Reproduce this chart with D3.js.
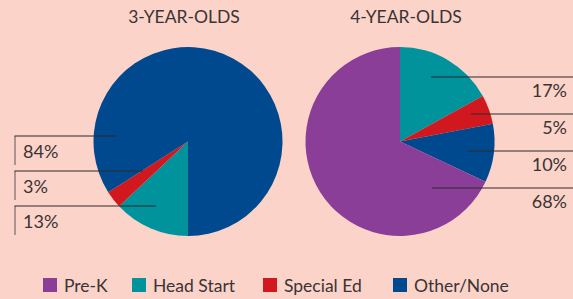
<!DOCTYPE html>
<html>
<head>
<meta charset="utf-8">
<script src="https://cdn.jsdelivr.net/npm/d3@7"></script>
<style>
  html, body { margin: 0; padding: 0; background: #fbd3c9; }
  svg { display: block; font-family: Lato, 'Open Sans', sans-serif; font-weight: 400; }
</style>
</head>
<body>
<div id="content"></div>
<script>
'use strict';

var categories = ['Pre-K', 'Head Start', 'Special Ed', 'Other/None'];
var colors = ['#8a3e97', '#00939b', '#d2181f', '#00498f'];
var titles = ['3-YEAR-OLDS', '4-YEAR-OLDS'];
var threeYearOlds = [0, 13, 3, 84];
var fourYearOlds = [68, 17, 5, 10];
// slice order drawn clockwise
var sliceOrder = ['Head Start', 'Special Ed', 'Other/None', 'Pre-K'];
// label order top to bottom
var leftLabels = ['Other/None', 'Special Ed', 'Head Start'];
var rightLabels = ['Head Start', 'Special Ed', 'Other/None', 'Pre-K'];

function run() {
    var width = 573, height = 299;
    var svg = d3.select('#content').append('svg')
        .attr('width', width)
        .attr('height', height);

    var color = d3.scaleOrdinal().domain(categories).range(colors);
    var radius = 94.5;
    var arc = d3.arc().innerRadius(0).outerRadius(radius);

    var pies = [
        { title: titles[0], values: threeYearOlds, cx: 188, cy: 141.5, start: Math.PI, titleX: 184 },
        { title: titles[1], values: fourYearOlds, cx: 400, cy: 141.5, start: 0, titleX: 406 }
    ];

    pies.forEach(function (p) {
        var data = sliceOrder.map(function (k) {
            return { key: k, value: p.values[categories.indexOf(k)] };
        });
        var pie = d3.pie().sort(null).value(function (d) { return d.value; })
            .startAngle(p.start).endAngle(p.start + 2 * Math.PI);
        var g = svg.append('g').attr('transform', 'translate(' + p.cx + ',' + p.cy + ')');
        g.selectAll('path')
            .data(pie(data).filter(function (d) { return d.data.value > 0; }))
            .enter().append('path')
            .attr('d', arc)
            .attr('fill', function (d) { return color(d.data.key); });
        svg.append('text')
            .attr('x', p.titleX)
            .attr('y', 23)
            .attr('text-anchor', 'middle')
            .attr('fill', '#3a3435')
            .style('font-size', '17.5px')
            .text(p.title);
    });

    // left callouts
    var leftY = d3.scalePoint().domain(leftLabels).range([136, 206]);
    var leftEnd = [117, 143, 156];
    var lg = svg.append('g');
    leftLabels.forEach(function (k, i) {
        var y = leftY(k);
        lg.append('line').attr('x1', 15).attr('x2', 15).attr('y1', y).attr('y2', y + 29)
            .attr('stroke', '#7a6a6a').attr('stroke-width', 1.2);
        lg.append('line').attr('x1', 14.5).attr('x2', leftEnd[i]).attr('y1', y).attr('y2', y)
            .attr('stroke', '#2e2a2a').attr('stroke-width', 1.2);
        lg.append('text').attr('x', 23).attr('y', y + 22)
            .attr('fill', '#3a3435').style('font-size', '18px')
            .text(threeYearOlds[categories.indexOf(k)] + '%');
    });

    // right callouts
    var rightY = d3.scalePoint().domain(rightLabels).range([77, 188]);
    var rightStart = [431, 471, 468, 432];
    rightLabels.forEach(function (k, i) {
        var y = rightY(k);
        lg.append('line').attr('x1', rightStart[i]).attr('x2', width).attr('y1', y).attr('y2', y)
            .attr('stroke', '#2e2a2a').attr('stroke-width', 1.2);
        lg.append('text').attr('x', 567).attr('y', y + 20)
            .attr('text-anchor', 'end')
            .attr('fill', '#3a3435').style('font-size', '18px')
            .text(fourYearOlds[categories.indexOf(k)] + '%');
    });

    // legend
    var legendX = [43, 132, 263, 393];
    var legend = svg.append('g').selectAll('g')
        .data(categories)
        .enter().append('g')
        .attr('transform', function (d, i) { return 'translate(' + legendX[i] + ',278)'; });
    legend.append('rect').attr('width', 14).attr('height', 14)
        .attr('fill', function (d) { return color(d); });
    legend.append('text').attr('x', 21).attr('y', 14)
        .attr('fill', '#3a3435').style('font-size', '17.5px')
        .text(function (d) { return d; });
}

document.addEventListener('DOMContentLoaded', run);
</script>
</body>
</html>
